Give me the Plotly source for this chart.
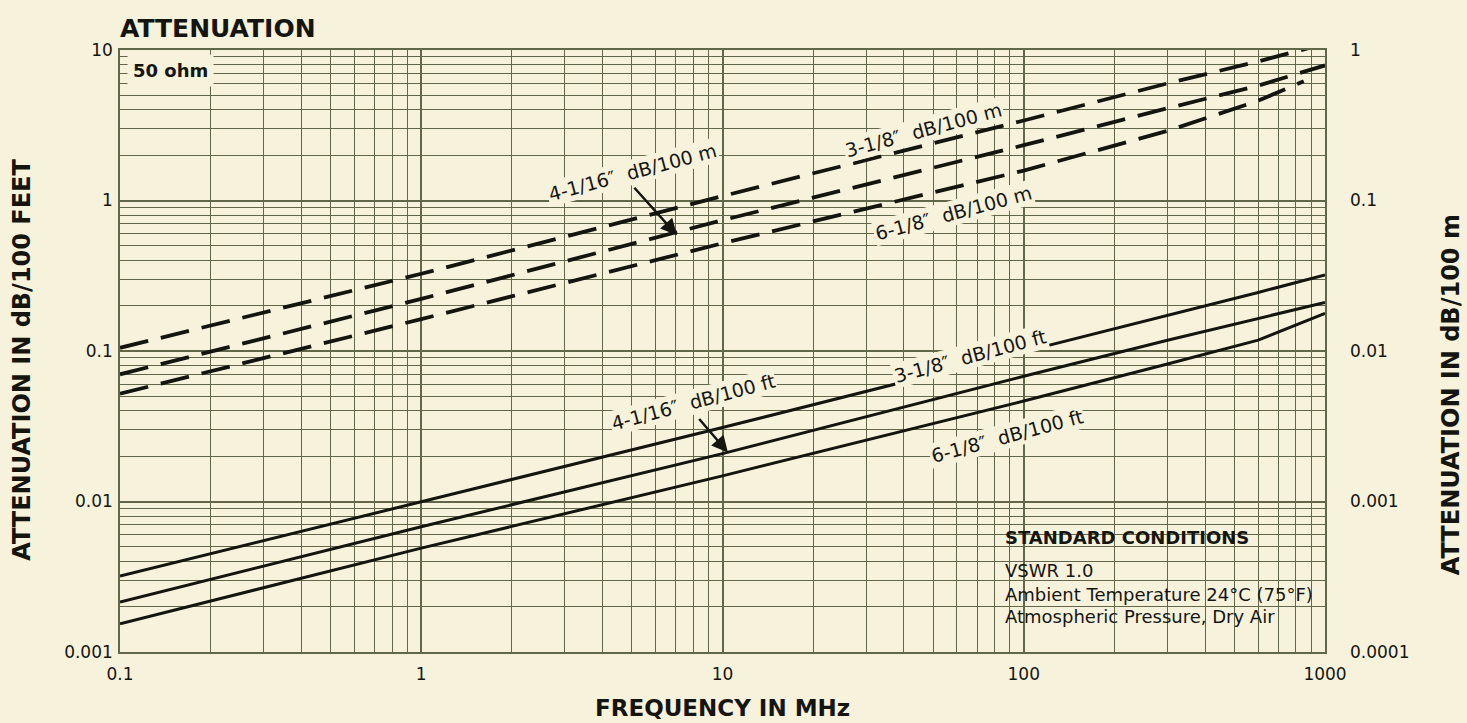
import plotly.graph_objects as go

# ---------------- data ----------------
freq_mhz = [0.1, 1, 10, 100, 300, 600, 1000]
# dB/100 ft (left axis)
ft_3_1_8 = [0.0032, 0.0100, 0.031, 0.099, 0.172, 0.245, 0.32]
ft_4_1_16 = [0.00215, 0.0068, 0.0208, 0.068, 0.118, 0.165, 0.21]
ft_6_1_8 = [0.00154, 0.0049, 0.0148, 0.0465, 0.082, 0.118, 0.178]
# dB/100 m (right axis)
m_3_1_8 = [0.0105, 0.0326, 0.107, 0.34, 0.60, 0.84, 1.1]
m_4_1_16 = [0.0070, 0.0222, 0.074, 0.233, 0.41, 0.58, 0.79]
freq_mhz_618m = [0.1, 1, 10, 100, 300, 600, 850]
m_6_1_8 = [0.0052, 0.0163, 0.052, 0.158, 0.29, 0.46, 0.62]

x_ticks = [0.1, 1, 10, 100, 1000]
x_ticktext = ["0.1", "1", "10", "100", "1000"]
y_ticks = [0.001, 0.01, 0.1, 1, 10]
y_ticktext = ["0.001", "0.01", "0.1", "1", "10"]
y2_ticks = [0.0001, 0.001, 0.01, 0.1, 1]
y2_ticktext = ["0.0001", "0.001", "0.01", "0.1", "1"]

BG = "#f7f2dc"
GRID = "#62674a"
INK = "#15150f"
FONT = "DejaVu Sans, Liberation Sans, Arial, sans-serif"

minor_x = [m * 10 ** e for e in range(-1, 3) for m in range(2, 10)]
minor_y = [m * 10 ** e for e in range(-3, 1) for m in range(2, 10)]

fig = go.Figure()

solid = dict(color=INK, width=3)
dashed = dict(color=INK, width=3.8, dash="29px,13px")

for ys in (ft_3_1_8, ft_4_1_16, ft_6_1_8):
    fig.add_trace(go.Scatter(x=freq_mhz, y=ys, mode="lines", line=solid,
                             hoverinfo="skip", yaxis="y"))
for xs, ys in ((freq_mhz, m_3_1_8), (freq_mhz, m_4_1_16), (freq_mhz_618m, m_6_1_8)):
    fig.add_trace(go.Scatter(x=xs, y=ys, mode="lines", line=dashed,
                             hoverinfo="skip", yaxis="y2"))

fig.update_layout(
    width=1467, height=723,
    margin=dict(l=120, r=142, t=50, b=71),
    paper_bgcolor=BG, plot_bgcolor=BG,
    showlegend=False,
    font=dict(family=FONT, color=INK, size=17),
    xaxis=dict(
        type="log", range=[-1, 3], tickvals=x_ticks, ticktext=x_ticktext,
        showgrid=True, gridcolor=GRID, gridwidth=1.6,
        minor=dict(tickvals=minor_x, showgrid=True, gridcolor=GRID, gridwidth=1.3),
        showline=True, linecolor=GRID, linewidth=1.6, mirror=True,
        zeroline=False, ticks="", ticklabelstandoff=6, automargin=False,
    ),
    yaxis=dict(
        type="log", range=[-3, 1], tickvals=y_ticks, ticktext=y_ticktext,
        showgrid=True, gridcolor=GRID, gridwidth=1.6,
        minor=dict(tickvals=minor_y, showgrid=True, gridcolor=GRID, gridwidth=1.3),
        showline=True, linecolor=GRID, linewidth=1.6, mirror=True,
        zeroline=False, ticks="", ticklabelstandoff=2, automargin=False,
    ),
    yaxis2=dict(
        type="log", range=[-4, 0], tickvals=y2_ticks, ticktext=y2_ticktext,
        overlaying="y", side="right", showgrid=False, zeroline=False,
        ticks="", ticklabelstandoff=24, automargin=False,
    ),
)

# Standard-conditions box background (hides grid)
fig.add_shape(type="rect", xref="paper", yref="paper",
              x0=0.726, x1=0.994, y0=0.0365, y1=0.2093,
              fillcolor=BG, line=dict(width=0), layer="between")

ann = []
# titles
ann.append(dict(text="<b>ATTENUATION</b>", x=-0.002, y=1.035, xanchor="left", yanchor="middle",
                font=dict(size=25)))
ann.append(dict(text="<b>FREQUENCY IN MHz</b>", x=0.5, y=-0.093, xanchor="center", yanchor="middle",
                font=dict(size=23)))
ann.append(dict(text="<b>ATTENUATION IN dB/100 FEET</b>", x=-0.0815, y=0.485, xanchor="center",
                yanchor="middle", textangle=-90, font=dict(size=24)))
ann.append(dict(text="<b>ATTENUATION IN dB/100 m</b>", x=1.1045, y=0.428, xanchor="center",
                yanchor="middle", textangle=-90, font=dict(size=24)))
ann.append(dict(text="<b>50 ohm</b>", x=0.006, y=0.966, xanchor="left", yanchor="middle",
                bgcolor=BG, borderpad=5, font=dict(size=18)))

# curve labels
labels = [
    ("3-1/8″  dB/100 m", 0.6664, 0.8671),
    ("4-1/16″  dB/100 m", 0.4257, 0.7973),
    ("6-1/8″  dB/100 m", 0.6913, 0.7292),
    ("3-1/8″  dB/100 ft", 0.7054, 0.4917),
    ("4-1/16″  dB/100 ft", 0.4755, 0.4153),
    ("6-1/8″  dB/100 ft", 0.7361, 0.3588),
]
for t, x, y in labels:
    ann.append(dict(text=t, x=x, y=y, xanchor="center", yanchor="middle", textangle=-15,
                    bgcolor=BG, borderpad=1, font=dict(size=19)))

# standard conditions text
ann.append(dict(text="<b>STANDARD CONDITIONS</b>", x=0.7328, y=0.191, xanchor="left", yanchor="middle",
                font=dict(size=18)))
for t, y in (("VSWR 1.0", 0.1346), ("Ambient Temperature 24°C (75°F)", 0.0963),
             ("Atmospheric Pressure, Dry Air", 0.0598)):
    ann.append(dict(text=t, x=0.7328, y=y, xanchor="left", yanchor="middle", font=dict(size=18)))

for a in ann:
    a.setdefault("xref", "paper")
    a.setdefault("yref", "paper")
    a.setdefault("showarrow", False)
    fig.add_annotation(**a)

# arrows pointing to the 4-1/16" curves
fig.add_annotation(x=0.849, y=-1.231, xref="x", yref="y2", text="", showarrow=True,
                   ax=-44, ay=-49, arrowhead=2, arrowsize=1.3, arrowwidth=2.5, arrowcolor=INK)
fig.add_annotation(x=1.018, y=-1.674, xref="x", yref="y", text="", showarrow=True,
                   ax=-30, ay=-35, arrowhead=2, arrowsize=1.3, arrowwidth=2.5, arrowcolor=INK)

fig.write_html("out.html")
